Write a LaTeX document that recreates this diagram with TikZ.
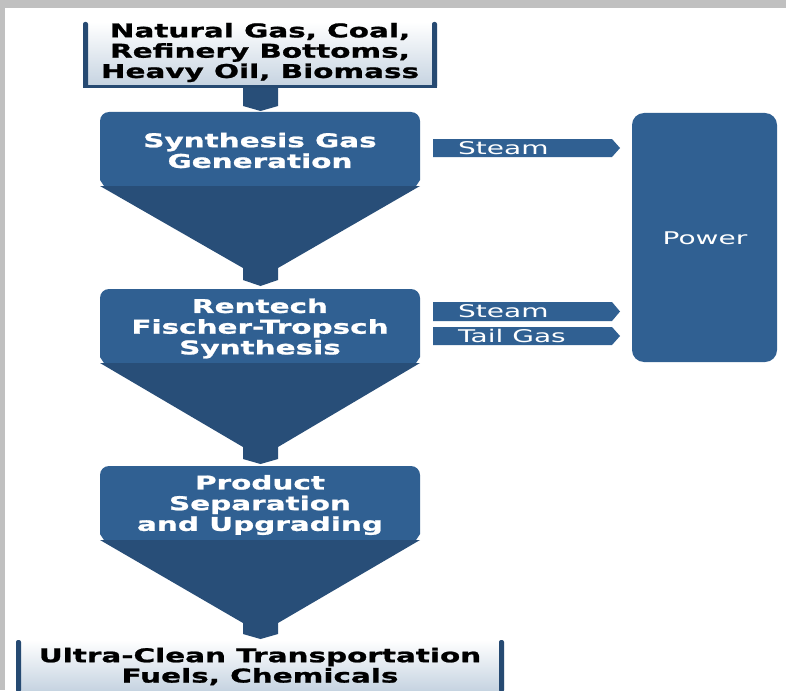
\documentclass[tikz,border=0pt]{standalone}
\usepackage{fontspec}
\newfontfamily\lblbold[FakeStretch=1.55,FakeBold=1.2]{DejaVu Sans Bold}
\newfontfamily\lblreg[FakeStretch=1.6]{DejaVu Sans}
\definecolor{rectblue}{RGB}{48,96,146}
\definecolor{triblue}{RGB}{40,78,120}
\definecolor{edgeblue}{RGB}{38,74,114}
\definecolor{boxlow}{RGB}{196,210,224}
\definecolor{bggray}{RGB}{192,192,192}
\begin{document}
\begin{tikzpicture}[x=1pt,y=-1pt,
  whitebold/.style={text=white,font=\lblbold\fontsize{19}{20.7}\selectfont,align=center,inner sep=0pt},
  blackbold/.style={text=black,font=\lblbold\fontsize{19}{20.3}\selectfont,align=center,inner sep=0pt},
  arrowtext/.style={text=white,font=\lblreg\fontsize{17.5}{19}\selectfont,inner sep=0pt,anchor=base west},
  funnelrect/.style={fill=rectblue},
  funneltri/.style={fill=triblue},
  flowarrow/.style={fill=rectblue}]
% background
\fill[bggray] (0,0) rectangle (786,690);
\fill[white] (5,8) rectangle (786,690);
\useasboundingbox (0,0) rectangle (786,690);

% input box
\shade[top color=white,bottom color=boxlow] (83,22) rectangle (437,88);
\fill[edgeblue,rounded corners=2pt] (83,22) rectangle (88,88);
\fill[edgeblue,rounded corners=2pt] (432,22) rectangle (437,88);
\fill[edgeblue] (83,85) rectangle (437,88);
\node[blackbold] (input) at (260,52.5) {Natural Gas, Coal,\\Refinery Bottoms,\\Heavy Oil, Biomass};
% stem from input
\fill[triblue] (243,88) -- (278,88) -- (278,106) -- (260.5,111) -- (243,106) -- cycle;

% funnel 1
\fill[funnelrect] (260,186) -- (104,186) -- (100,180) -- (100,150) [rounded corners=9pt] -- (100,112) -- (420,112) -- (420,150) [sharp corners] -- (420,180) -- (416,186) -- cycle;
\fill[funneltri] (100,186) -- (420,186) -- (278,268) -- (278,280) -- (260.5,286) -- (243,280) -- (243,268) -- cycle;
\node[whitebold] (syngas) at (260,150.5) {Synthesis Gas\\Generation};

% funnel 2
\fill[funnelrect] (260,363) -- (104,363) -- (100,357) -- (100,330) [rounded corners=9pt] -- (100,289) -- (420,289) -- (420,330) [sharp corners] -- (420,357) -- (416,363) -- cycle;
\fill[funneltri] (100,363) -- (420,363) -- (278,447) -- (278,459) -- (260.5,464) -- (243,459) -- (243,447) -- cycle;
\node[whitebold] (ft) at (260,328.5) {Rentech\\Fischer-Tropsch\\Synthesis};

% funnel 3
\fill[funnelrect] (260,540) -- (104,540) -- (100,534) -- (100,505) [rounded corners=9pt] -- (100,466) -- (420,466) -- (420,505) [sharp corners] -- (420,534) -- (416,540) -- cycle;
\fill[funneltri] (100,540) -- (420,540) -- (278,623) -- (278,634) -- (260.5,639) -- (243,634) -- (243,623) -- cycle;
\node[whitebold] (product) at (260,505) {Product\\Separation\\and Upgrading};

% output box
\shade[top color=white,bottom color=boxlow] (16,640) rectangle (504,692);
\fill[edgeblue,rounded corners=2pt] (16,640) rectangle (21,692);
\fill[edgeblue,rounded corners=2pt] (499,640) rectangle (504,692);
\node[blackbold] (output) at (260,666.5) {Ultra-Clean Transportation\\Fuels, Chemicals};

% power box
\node[fill=rectblue,rounded corners=12pt,minimum width=145pt,minimum height=249pt,inner sep=0pt] (power) at (704.5,237.5) {};
\node[text=white,font=\lblreg\fontsize{17.5}{19}\selectfont,inner sep=0pt,anchor=base] (powerlbl) at (705,244) {Power};

% arrows
\fill[flowarrow] (433,139) -- (612,139) -- (620,148) -- (612,157) -- (433,157) -- cycle;
\node[arrowtext] (steam1) at (458,154) {Steam};
\fill[flowarrow] (433,302) -- (612,302) -- (620,311.5) -- (612,321) -- (433,321) -- cycle;
\node[arrowtext] (steam2) at (458,317.5) {Steam};
\fill[flowarrow] (433,327) -- (612,327) -- (620,336) -- (612,345) -- (433,345) -- cycle;
\node[arrowtext] (tailgas) at (458,342) {Tail Gas};
\end{tikzpicture}
\end{document}
